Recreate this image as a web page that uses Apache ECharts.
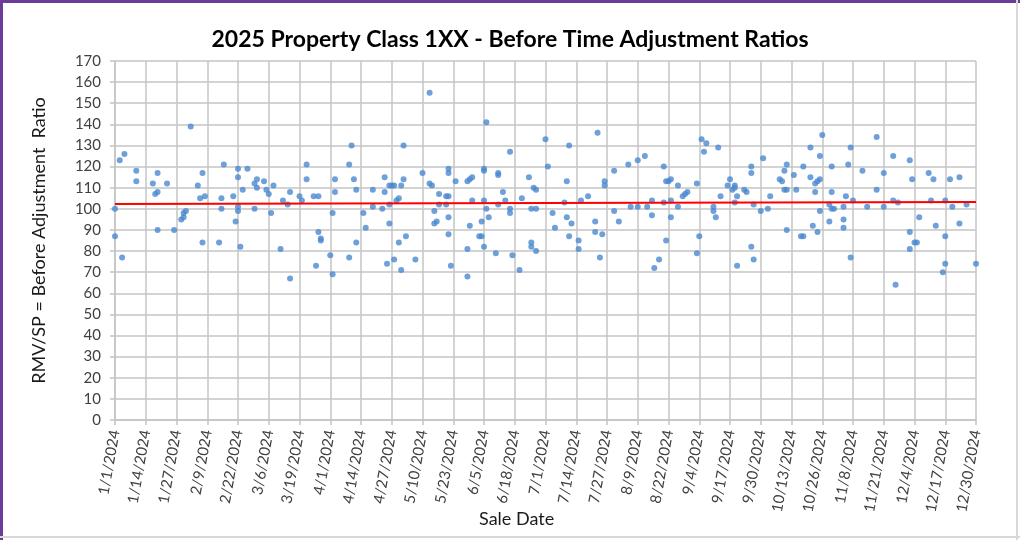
<!DOCTYPE html>
<html>
<head>
<meta charset="utf-8">
<script src="https://cdn.jsdelivr.net/npm/echarts@6/dist/echarts.min.js"></script>
<style>
  html, body { margin: 0; padding: 0; background: #fff; }
  #chart { width: 1020px; height: 540px; }
</style>
</head>
<body>
<div id="chart"></div>
<script>
// days since 1/1/2024 and RMV/SP ratio for each sale
var saleDay = [
  0,0,2,4,3,9,9,16,17,18,18,18,22,25,32,29,30,28,29,35,37,36,38,37,44,
  46,45,45,50,51,52,52,54,52,52,53,56,59,60,59,60,63,64,65,67,66,70,71,73,74,74,78,79,81,81,84,86,86,87,87,85,91,
  92,92,93,93,99,100,99,101,102,102,105,106,109,109,113,114,114,115,116,117,118,121,116,116,118,119,120,120,121,122,122,123,127,130,133,133,134,135,135,136,137,
  137,140,141,140,141,141,141,141,142,144,149,150,151,149,149,150,151,154,155,155,156,156,156,156,157,157,158,161,162,162,162,164,165,167,167,167,168,171,172,175,176,178,176,176,177,178,178,182,183,
  185,186,190,191,191,192,192,193,196,196,197,200,203,203,206,204,205,207,207,211,211,213,217,218,221,221,224,225,227,227,228,230,
  232,232,233,234,235,233,235,235,238,238,240,241,242,246,246,247,248,250,249,253,253,254,255,256,259,260,261,262,262,262,263,263,266,267,269,269,269,270,270,273,274,276,277,
  281,282,283,284,283,284,284,287,288,290,291,291,294,294,295,296,297,298,296,297,298,298,299,302,303,304,302,303,303,308,308,308,309,310,311,311,312,316,318,322,322,
  325,325,329,329,331,330,336,337,336,336,338,339,340,344,346,345,347,351,351,351,350,353,354,357,357,360,364
];
var ratio = [
  100,87,123,126,77,118,113,112,107,108,117,90,112,90,139,98,99,95,96,111,117,105,106,84,84,
  121,105,100,106,94,119,115,109,101,99,82,119,100,114,112,110,113,109,107,111,98,81,104,102,108,67,106,104,121,114,106,106,89,86,85,73,78,
  69,98,114,108,121,130,77,114,109,84,98,91,109,101,100,115,108,74,111,111,111,111,102,93,76,104,105,84,71,130,114,87,76,117,155,112,111,99,93,94,107,
  102,106,106,102,96,119,117,88,73,113,113,114,115,81,68,92,104,87,87,94,82,104,119,118,141,100,96,79,117,116,102,108,104,127,100,98,78,71,105,115,100,100,84,82,110,109,80,133,120,
  98,91,103,113,96,130,87,93,85,81,104,106,94,89,88,136,77,113,111,118,99,94,121,101,101,123,125,101,104,97,72,76,
  120,103,113,113,114,85,104,96,111,101,106,107,108,112,79,87,133,131,127,101,99,96,129,106,111,114,109,111,110,103,106,73,109,108,120,117,82,76,102,99,124,100,106,
  114,113,118,121,109,109,90,116,109,87,87,120,129,115,92,112,113,114,108,89,125,99,135,102,100,100,94,120,108,101,95,91,106,121,129,77,104,118,101,134,109,
  117,101,125,104,103,64,123,114,89,81,84,84,96,117,114,104,92,104,87,74,70,114,101,115,93,102,74
];
// fitted line across the year
var trendDay = [0, 364];
var trendRatio = [102.3, 103.2];

var yMin = 0, yMax = 170, yStep = 10;
var xMin = 0, xMax = 364, xStep = 13;

var points = saleDay.map(function (d, i) { return [d, ratio[i]]; });
var trend = trendDay.map(function (d, i) { return [d, trendRatio[i]]; });

function dayLabel(v) {
  var d = new Date(2024, 0, 1 + v);
  return (d.getMonth() + 1) + '/' + d.getDate() + '/' + d.getFullYear();
}

var font = 'Lato, "Open Sans", sans-serif';
var gridColor = '#c4c4c4';

var chart = echarts.init(document.getElementById('chart'));
chart.setOption({
  animation: false,
  backgroundColor: '#ffffff',
  textStyle: { fontFamily: font },
  title: {
    text: '2025 Property Class 1XX - Before Time Adjustment Ratios',
    left: 'center',
    top: 23,
    textStyle: { fontFamily: font, fontSize: 23, fontWeight: 'bold', color: '#000' }
  },
  grid: { left: 115, right: 44, top: 61, bottom: 120, outerBoundsMode: 'none' },
  xAxis: {
    type: 'value',
    min: xMin,
    max: xMax,
    interval: xStep,
    axisLine: { lineStyle: { color: gridColor, width: 1.5 } },
    axisTick: { show: true, length: 5, lineStyle: { color: gridColor, width: 1.5 } },
    splitLine: { show: true, lineStyle: { color: gridColor, width: 1.5 } },
    axisLabel: {
      rotate: 80,
      margin: 10,
      fontSize: 15,
      color: '#404040',
      fontFamily: font,
      formatter: dayLabel
    }
  },
  yAxis: {
    type: 'value',
    min: yMin,
    max: yMax,
    interval: yStep,
    name: 'RMV/SP = Before Adjustment  Ratio',
    nameLocation: 'middle',
    nameGap: 67,
    nameTextStyle: { fontFamily: font, fontSize: 18, color: '#1a1a1a' },
    axisLine: { show: true, lineStyle: { color: gridColor, width: 1.5 } },
    axisTick: { show: true, length: 5, lineStyle: { color: gridColor, width: 1.5 } },
    splitLine: { show: true, lineStyle: { color: gridColor, width: 1.5 } },
    axisLabel: { fontSize: 15, color: '#404040', margin: 14, fontFamily: font }
  },
  graphic: [
    { type: 'text', left: 479, top: 510, style: { text: 'Sale Date', font: '18px ' + font, fill: '#1a1a1a' } },
    { type: 'line', shape: { x1: 1.5, y1: 0, x2: 1.5, y2: 540 }, style: { stroke: '#6a3c9c', lineWidth: 3 } },
    { type: 'line', shape: { x1: 0, y1: 1.5, x2: 1020, y2: 1.5 }, style: { stroke: '#6a3c9c', lineWidth: 3 } },
    { type: 'line', shape: { x1: 1017, y1: 0, x2: 1017, y2: 540 }, style: { stroke: '#d8d8d8', lineWidth: 2 } },
    { type: 'line', shape: { x1: 0, y1: 537, x2: 1020, y2: 537 }, style: { stroke: '#d8d8d8', lineWidth: 2 } }
  ],
  series: [
    {
      type: 'scatter',
      data: points,
      symbolSize: 6,
      itemStyle: { color: '#4a88cf' }
    },
    {
      type: 'line',
      data: trend,
      symbol: 'none',
      lineStyle: { color: '#ff0000', width: 2 },
      z: 3
    }
  ]
});
</script>
</body>
</html>
